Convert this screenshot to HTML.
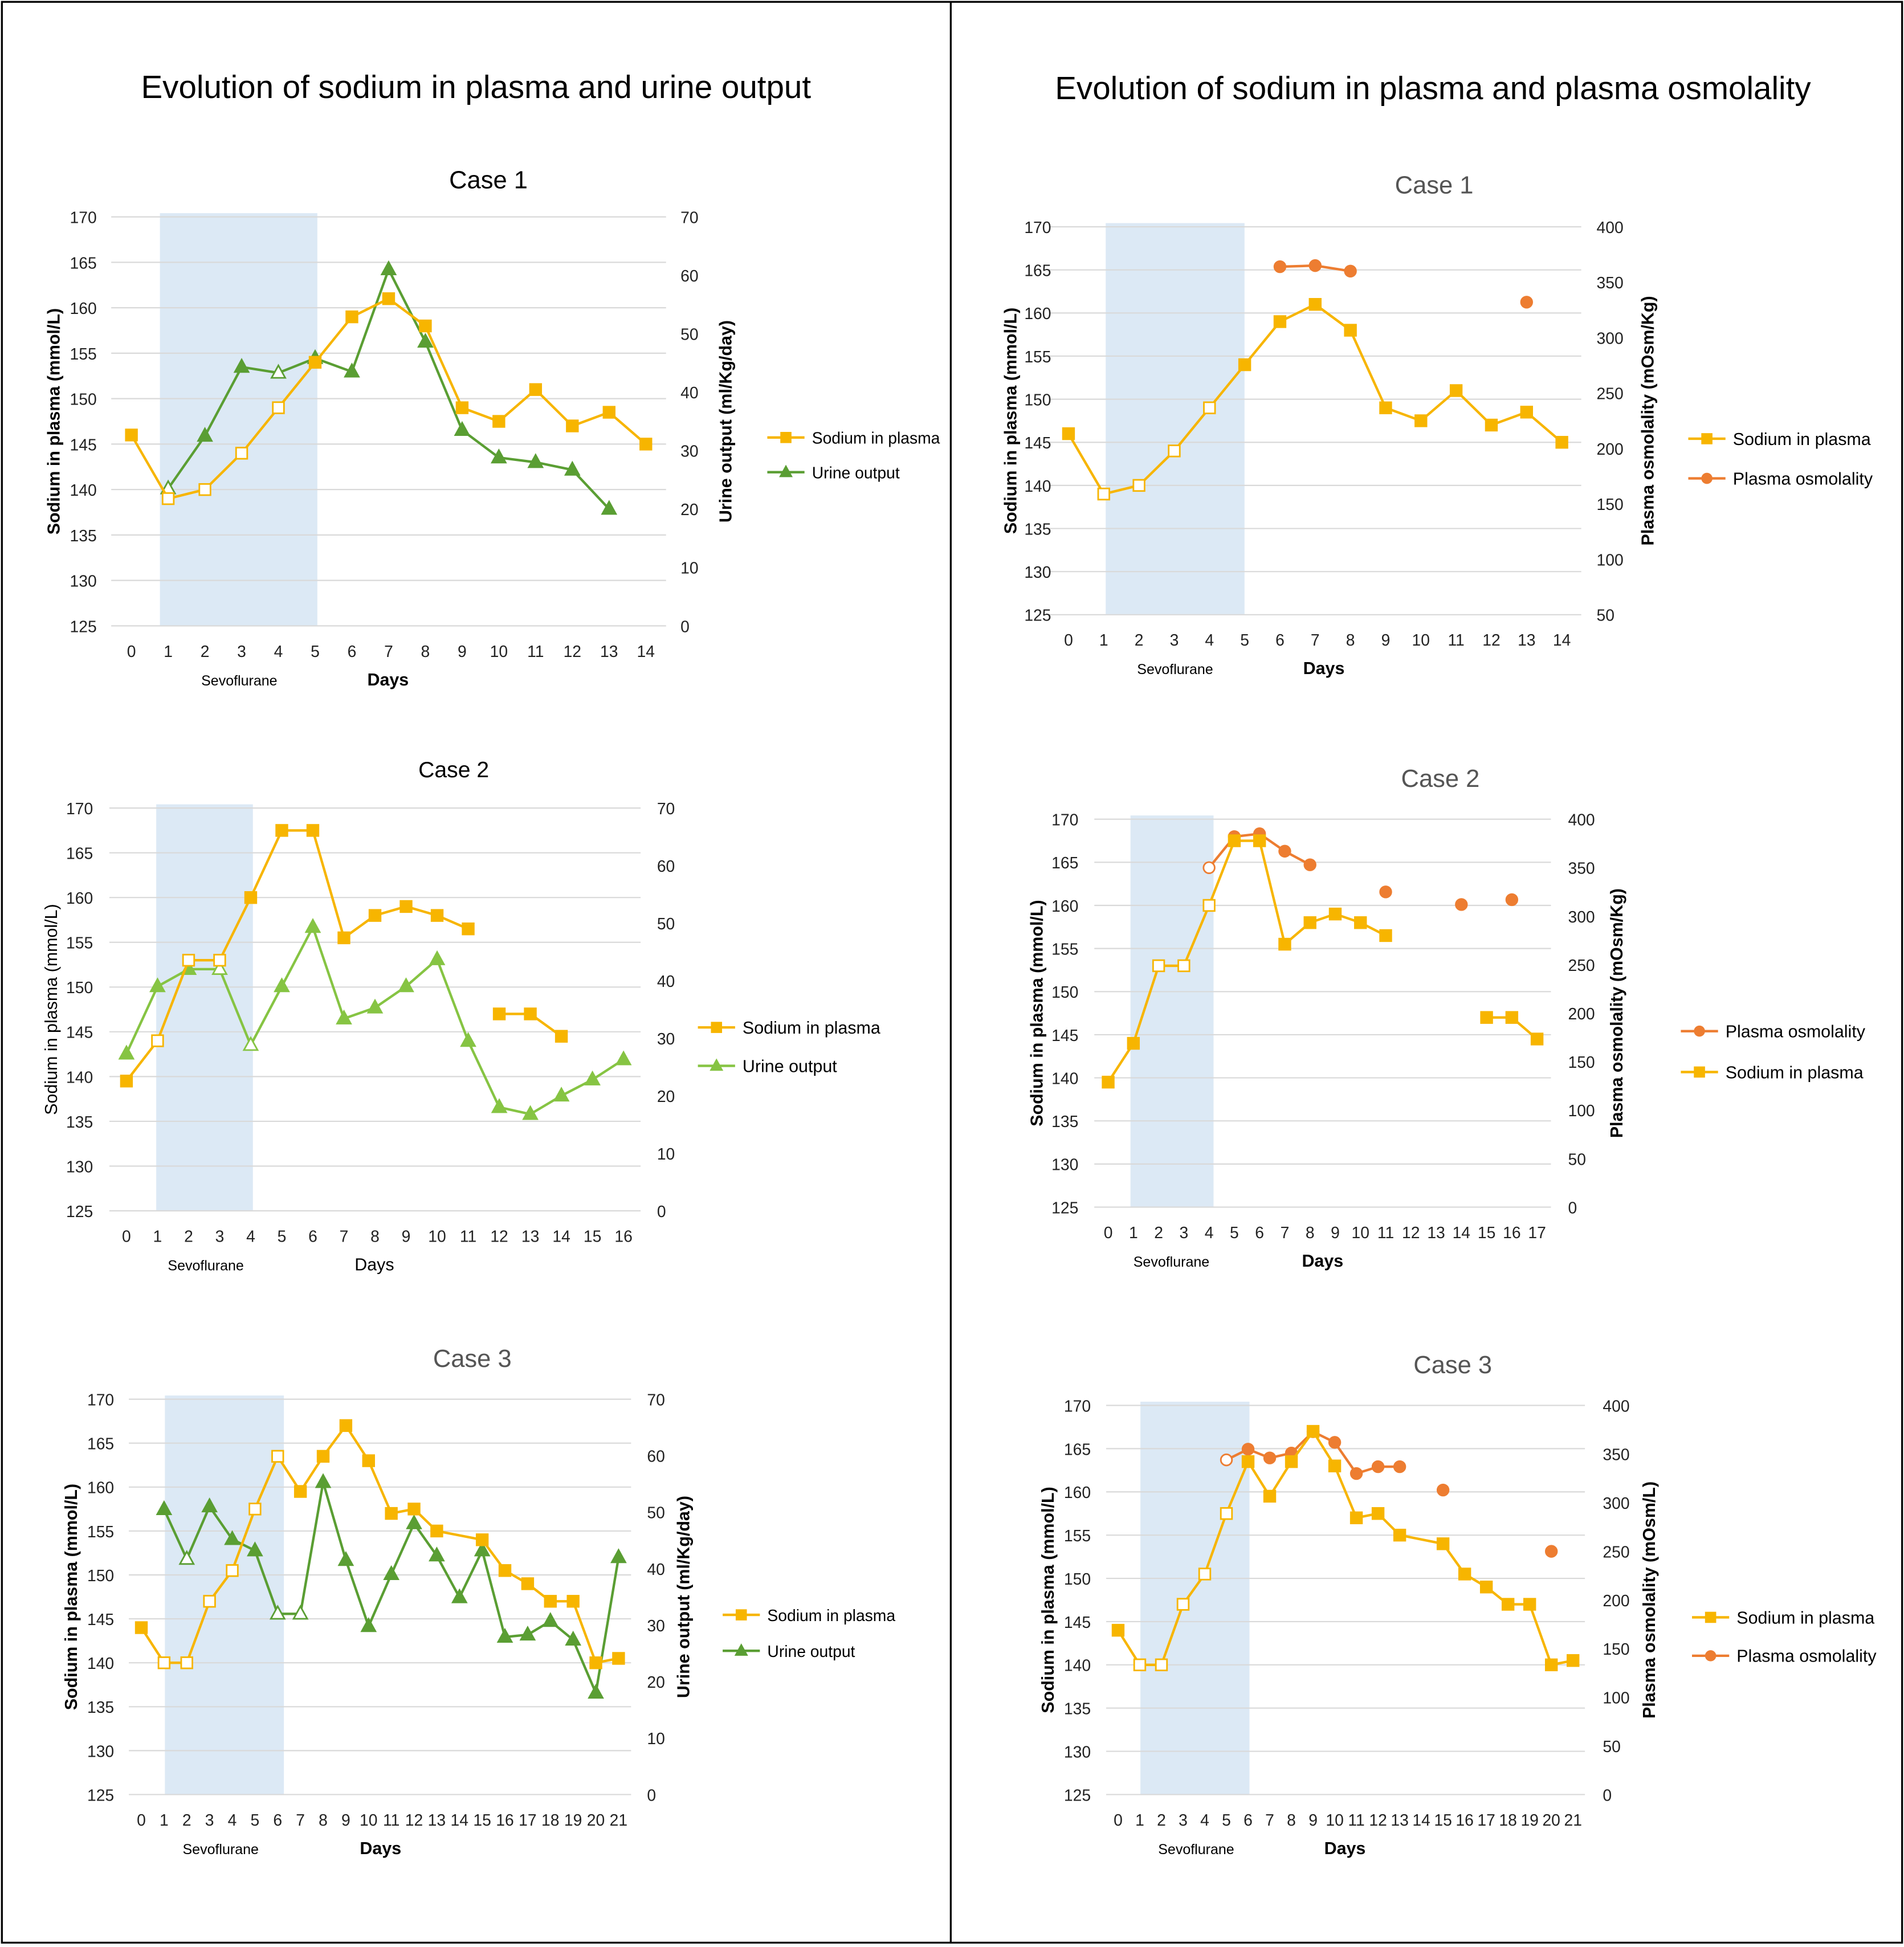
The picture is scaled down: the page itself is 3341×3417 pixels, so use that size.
<!DOCTYPE html>
<html><head><meta charset="utf-8"><style>
html,body{margin:0;padding:0;background:#fff}
svg{display:block;font-family:"Liberation Sans",sans-serif}
</style></head><body>
<svg id="root" xmlns="http://www.w3.org/2000/svg" width="3341" height="3417" viewBox="0 0 1536 1571">
<rect x="1.5" y="1.5" width="1533" height="1566" fill="#fff" stroke="#000" stroke-width="1.5"/>
<line x1="767" y1="1.5" x2="767" y2="1567" stroke="#000" stroke-width="1.5"/>
<text x="384" y="79" font-size="26" text-anchor="middle">Evolution of sodium in plasma and urine output</text>
<text x="1156" y="80" font-size="26" text-anchor="middle">Evolution of sodium in plasma and plasma osmolality</text>
</svg>
<script>
// ---- data ----
const l1Sodium=[146,139,140,144,149,154,159,161,158,149,147.5,151,147,148.5,145];
const l1Urine=[null,23.5,32.5,44.3,43.3,45.8,43.5,61,48.6,33.5,28.8,28,26.7,20,null];
const l2Sodium=[139.5,144,153,153,160,167.5,167.5,155.5,158,159,158,156.5,147,147,144.5,null,null];
const l2Urine=[27.3,39,42,42,28.8,39,49.3,33.4,35.3,39,43.7,29.5,18,16.8,20,22.8,26.3];
const l3Sodium=[144,140,140,147,150.5,157.5,163.5,159.5,163.5,167,163,157,157.5,155,null,154,150.5,149,147,147,140,140.5];
const l3Urine=[null,50.5,41.7,51,45.2,43.2,32,32,55.3,41.5,29.8,39,48,42.3,34.9,43.2,27.9,28.3,30.7,27.4,18,42];
const r1Sodium=[146,139,140,144,149,154,159,161,158,149,147.5,151,147,148.5,145];
const r1Osm=[null,null,null,null,null,null,364,365,360,null,null,null,null,332,null];
const r2Sodium=[139.5,144,153,153,160,167.5,167.5,155.5,158,159,158,156.5,null,null,null,147,147,144.5];
const r2Osm=[null,null,null,null,350,382,385,367,353,null,null,325,null,null,312,null,317,null];
const r3Sodium=[144,140,140,147,150.5,157.5,163.5,159.5,163.5,167,163,157,157.5,155,null,154,150.5,149,147,147,140,140.5];
const r3Osm=[null,null,null,null,null,344,355,346,351,373,362,330,337,337,null,313,null,null,null,null,250,null];
const leftTicks=[125,130,135,140,145,150,155,160,165,170];
const urineTicks=[0,10,20,30,40,50,60,70];
const osmTicks1=[50,100,150,200,250,300,350,400];
const osmTicks2=[0,50,100,150,200,250,300,350,400];

const NS="http://www.w3.org/2000/svg";
const root=document.getElementById('root');
function mk(tag,attrs,parent,text){const e=document.createElementNS(NS,tag);for(const k in attrs)e.setAttribute(k,attrs[k]);if(text!==undefined)e.textContent=text;(parent||root).appendChild(e);return e;}

const YEL="#f7b500",ORA="#ed7d31",DG="#5a9e33",LG="#86c443";

function chart(c){
  const g=mk('g',{});
  
  
  const n=c.s1.length;
  const x=d=>c.x0+(c.x1-c.x0)*d/(n-1);
  const yl=v=>c.yb+(c.yt-c.yb)*(v-125)/45;
  const yr=v=>c.yb+(c.yt-c.yb)*(v-c.rmin)/(c.rmax-c.rmin);
  const step=(c.x1-c.x0)/(n-1);
  const gl=c.x0-step*0.55, gr=c.x1+step*0.55;
  const sh=mk('rect',{x:c.shL,y:c.yt-3,width:c.shR-c.shL,height:c.yb-c.yt+3,fill:"#dce9f5"},g);
  
  
  leftTicks.forEach(t=>{
    const l=mk('line',{x1:gl,x2:gr,y1:yl(t),y2:yl(t),stroke:"#d9d9d9","stroke-width":1},g);
    
    
    const tx=mk('text',{x:c.ltx,y:yl(t)+5,"font-size":13,"text-anchor":"end",fill:"#222"},g,String(t));
    
    
  });
  c.rTicks.forEach(t=>{
    const tx=mk('text',{x:c.rtx,y:yr(t)+5,"font-size":13,fill:"#222"},g,String(t));
    
    
  });
  for(let d=0;d<n;d++){
    const tx=mk('text',{x:x(d),y:c.yb+25,"font-size":13,"text-anchor":"middle",fill:"#222"},g,String(d));
    
    
  }
  const sv=mk('text',{x:c.sevX,y:c.yb+48,"font-size":11.5,"text-anchor":"middle"},g,"Sevoflurane");
  
  
  const dy=mk('text',{x:c.daysX,y:c.yb+48,"font-size":14,"font-weight":c.daysBold?"bold":"normal","text-anchor":"middle"},g,"Days");
  
  
  const ct=mk('text',{x:c.tX,y:c.tY,"font-size":c.tFs||20,"text-anchor":"middle",fill:c.tCol},g,c.title);
  
  
  const la=mk('text',{transform:`translate(${c.laX},${(c.yt+c.yb)/2}) rotate(-90)`,"font-size":14,"font-weight":c.lBold?"bold":"normal","text-anchor":"middle"},g,"Sodium in plasma (mmol/L)");
  
  
  const ra=mk('text',{transform:`translate(${c.raX},${(c.yt+c.yb)/2}) rotate(-90)`,"font-size":14,"font-weight":"bold","text-anchor":"middle"},g,c.rLabel);
  
  
  function series(vals,yf,col,marker,connect,nm,hollowSet,breaks){
    let pts=[];const segs=[];
    vals.forEach((v,i)=>{ if(v===null){ if(!connect&&pts.length){segs.push(pts);pts=[];} } else { if(breaks.includes(i)&&pts.length){segs.push(pts);pts=[];} pts.push([x(i),yf(v)]); } });
    if(pts.length)segs.push(pts);
    segs.forEach(s=>{ if(s.length>1){const p=mk('polyline',{points:s.map(q=>q.join(',')).join(' '),fill:"none",stroke:col,"stroke-width":2},g);
      
      }});
    vals.forEach((v,i)=>{ if(v===null)return; const px=x(i),py=yf(v);const hol=hollowSet.includes(i);let m;
      if(marker==='sq') m=mk('rect',{x:px-4.5,y:py-4.5,width:9,height:9,fill:hol?"#fff":col,stroke:col,"stroke-width":1.3},g);
      else if(marker==='tri') m=mk('polygon',{points:`${px},${py-6} ${px-5.5},${py+4} ${px+5.5},${py+4}`,fill:hol?"#fff":col,stroke:col,"stroke-width":1.3},g);
      else m=mk('circle',{cx:px,cy:py,r:4.5,fill:hol?"#fff":col,stroke:col,"stroke-width":1.3},g);
      
      
    });
  }
  series(c.s2,yr,c.c2,c.m2,false,c.n2,c.h2,[]);
  series(c.s1,yl,YEL,'sq',c.conn1,'sodium',c.h1,c.br1||[]);
  c.leg.forEach((L,i)=>{
    const ly=c.legY+i*c.legDy;
    const l=mk('line',{x1:c.legX,x2:c.legX+30,y1:ly,y2:ly,stroke:L.col,"stroke-width":2},g);
    
    
    let m;
    if(L.m==='sq') m=mk('rect',{x:c.legX+10.5,y:ly-4.5,width:9,height:9,fill:L.col},g);
    else if(L.m==='tri') m=mk('polygon',{points:`${c.legX+15},${ly-6} ${c.legX+9.5},${ly+4} ${c.legX+20.5},${ly+4}`,fill:L.col},g);
    else m=mk('circle',{cx:c.legX+15,cy:ly,r:4.5,fill:L.col},g);
    
    
    const t=mk('text',{x:c.legX+36,y:ly+5,"font-size":c.legFs},g,L.t);
    
    
  });
}
const UL="Urine output (ml/Kg/day)";
chart({name:'case1-urine-chart',s1:l1Sodium,s2:l1Urine,x0:106,x1:521,yt:175,yb:505,rmin:0,rmax:70,rTicks:urineTicks,shL:129,shR:256,
  ltx:78,rtx:549,sevX:193,daysX:313,daysBold:true,tX:394,tY:152,tCol:"#000",title:"Case 1",laX:48,lBold:true,raX:590,rLabel:UL,
  c2:DG,m2:'tri',n2:'urine',h1:[1,2,3,4],h2:[1,4],conn1:false,legX:619,legY:353,legDy:28,legFs:13,
  leg:[{t:"Sodium in plasma",col:YEL,m:'sq'},{t:"Urine output",col:DG,m:'tri'}]});
chart({name:'case2-urine-chart',s1:l2Sodium,s2:l2Urine,x0:102,x1:503,yt:652,yb:977,rmin:0,rmax:70,rTicks:urineTicks,shL:126,shR:204,
  ltx:75,rtx:530,sevX:166,daysX:302,daysBold:false,tX:366,tY:627,tFs:18,tCol:"#000",title:"Case 2",laX:46,lBold:false,raX:9999,rLabel:"",
  c2:LG,m2:'tri',n2:'urine',h1:[1,2,3],h2:[3,4],conn1:false,br1:[12],legX:563,legY:829,legDy:31,legFs:14,
  leg:[{t:"Sodium in plasma",col:YEL,m:'sq'},{t:"Urine output",col:LG,m:'tri'}]});
chart({name:'case3-urine-chart',s1:l3Sodium,s2:l3Urine,x0:114,x1:499,yt:1129,yb:1448,rmin:0,rmax:70,rTicks:urineTicks,shL:133,shR:229,
  ltx:92,rtx:522,sevX:178,daysX:307,daysBold:true,tX:381,tY:1103,tCol:"#555",title:"Case 3",laX:62,lBold:true,raX:556,rLabel:UL,
  c2:DG,m2:'tri',n2:'urine',h1:[1,2,3,4,5,6],h2:[2,6,7],conn1:true,legX:583,legY:1303,legDy:29,legFs:13,
  leg:[{t:"Sodium in plasma",col:YEL,m:'sq'},{t:"Urine output",col:DG,m:'tri'}]});
chart({name:'case1-osmolality-chart',s1:r1Sodium,s2:r1Osm,x0:862,x1:1260,yt:183,yb:496,rmin:50,rmax:400,rTicks:osmTicks1,shL:892,shR:1004,
  ltx:848,rtx:1288,sevX:948,daysX:1068,daysBold:true,tX:1157,tY:156,tCol:"#555",title:"Case 1",laX:820,lBold:true,raX:1334,rLabel:"Plasma osmolality (mOsm/Kg)",
  c2:ORA,m2:'ci',n2:'osmolality',h1:[1,2,3,4],h2:[],conn1:false,legX:1362,legY:354,legDy:32,legFs:14,
  leg:[{t:"Sodium in plasma",col:YEL,m:'sq'},{t:"Plasma osmolality",col:ORA,m:'ci'}]});
chart({name:'case2-osmolality-chart',s1:r2Sodium,s2:r2Osm,x0:894,x1:1240,yt:661,yb:974,rmin:0,rmax:400,rTicks:osmTicks2,shL:912,shR:979,
  ltx:870,rtx:1265,sevX:945,daysX:1067,daysBold:true,tX:1162,tY:635,tCol:"#555",title:"Case 2",laX:841,lBold:true,raX:1309,rLabel:"Plasma osmolality (mOsm/Kg)",
  c2:ORA,m2:'ci',n2:'osmolality',h1:[2,3,4],h2:[4],conn1:false,legX:1356,legY:832,legDy:33,legFs:14,
  leg:[{t:"Plasma osmolality",col:ORA,m:'ci'},{t:"Sodium in plasma",col:YEL,m:'sq'}]});
chart({name:'case3-osmolality-chart',s1:r3Sodium,s2:r3Osm,x0:902,x1:1269,yt:1134,yb:1448,rmin:0,rmax:400,rTicks:osmTicks2,shL:920,shR:1008,
  ltx:880,rtx:1293,sevX:965,daysX:1085,daysBold:true,tX:1172,tY:1108,tCol:"#555",title:"Case 3",laX:850,lBold:true,raX:1335,rLabel:"Plasma osmolality (mOsm/L)",
  c2:ORA,m2:'ci',n2:'osmolality',h1:[1,2,3,4,5],h2:[5],conn1:true,legX:1365,legY:1305,legDy:31,legFs:14,
  leg:[{t:"Sodium in plasma",col:YEL,m:'sq'},{t:"Plasma osmolality",col:ORA,m:'ci'}]});
</script>
</body></html>
